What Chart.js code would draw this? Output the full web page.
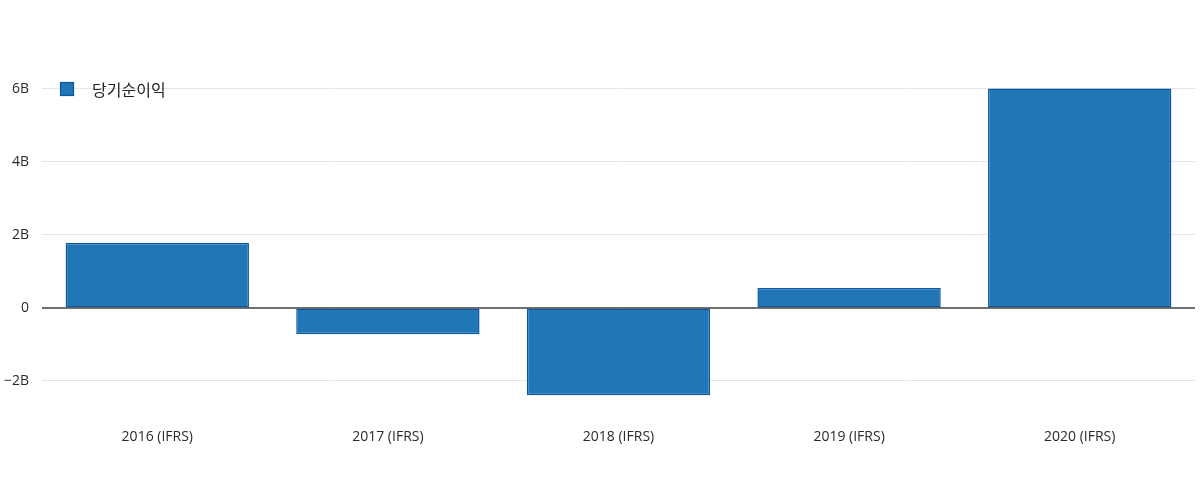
<!DOCTYPE html>
<html><head><meta charset="utf-8">
<script src="https://cdn.jsdelivr.net/npm/chart.js@4"></script>
<style>html,body{margin:0;padding:0;background:#fff}#wrap{width:1200px;height:478px}</style>
</head><body><div id="wrap"><canvas id="c"></canvas></div>
<script>
const categories = ['2016 (IFRS)', '2017 (IFRS)', '2018 (IFRS)', '2019 (IFRS)', '2020 (IFRS)'];
const seriesName = '당기순이익';
const netIncome = [1.78e9, -0.72e9, -2.39e9, 0.55e9, 6.01e9];
const yTicks = [-2e9, 0, 2e9, 4e9, 6e9];
const yMin = -2.795e9, yMax = 6.41e9;

const zeroLine = {
  id: 'zeroLine',
  afterDatasetsDraw(chart) {
    const y = chart.scales.y.getPixelForValue(0);
    const ctx = chart.ctx;
    ctx.save();
    ctx.strokeStyle = '#444';
    ctx.lineWidth = 1.3;
    ctx.beginPath();
    ctx.moveTo(chart.chartArea.left, y);
    ctx.lineTo(chart.chartArea.right, y);
    ctx.stroke();
    ctx.restore();
  }
};
const legendDraw = {
  id: 'legendDraw',
  afterDraw(chart) {
    const ds = chart.data.datasets[0];
    const ctx = chart.ctx;
    ctx.save();
    ctx.fillStyle = ds.backgroundColor;
    ctx.strokeStyle = ds.borderColor;
    ctx.lineWidth = 1.2;
    ctx.fillRect(60, 82, 14, 14);
    ctx.strokeRect(60.5, 82.5, 13, 13);
    ctx.fillStyle = '#222';
    ctx.font = '16px "Noto Sans CJK KR", "Open Sans"';
    ctx.textBaseline = 'middle';
    ctx.fillText(ds.label, 92, 89.5);
    ctx.restore();
  }
};

new Chart(document.getElementById('c'), {
  type: 'bar',
  data: {
    labels: categories,
    datasets: [{
      label: seriesName,
      data: netIncome,
      backgroundColor: '#2176b5',
      borderColor: '#0b57a4',
      borderWidth: 1.5,
      borderSkipped: false,
      categoryPercentage: 0.795,
      barPercentage: 1
    }]
  },
  options: {
    responsive: true,
    maintainAspectRatio: false,
    animation: false,
    layout: { padding: { top: 74, right: 5, left: 0, bottom: 0 } },
    plugins: { legend: { display: false }, tooltip: { enabled: false } },
    scales: {
      x: {
        grid: { display: false, drawTicks: false },
        border: { display: false },
        ticks: { color: '#2a2a2a', font: { family: '"Open Sans"', size: 14 }, padding: 19, maxRotation: 0 },
        afterFit(s) { s.height = 68; }
      },
      y: {
        min: yMin, max: yMax,
        grid: { color: '#e6e6e6', lineWidth: 1, drawTicks: false },
        border: { display: false },
        afterBuildTicks(s) { s.ticks = yTicks.map(v => ({ value: v })); },
        ticks: {
          color: '#2a2a2a', font: { family: '"Open Sans"', size: 14 }, padding: 13,
          callback(v) { if (v === 0) return '0'; const b = v / 1e9; return (b < 0 ? '\u2212' + Math.abs(b) : b) + 'B'; }
        },
        afterFit(s) { s.width = 42; }
      }
    }
  },
  plugins: [zeroLine, legendDraw]
});
</script></body></html>
